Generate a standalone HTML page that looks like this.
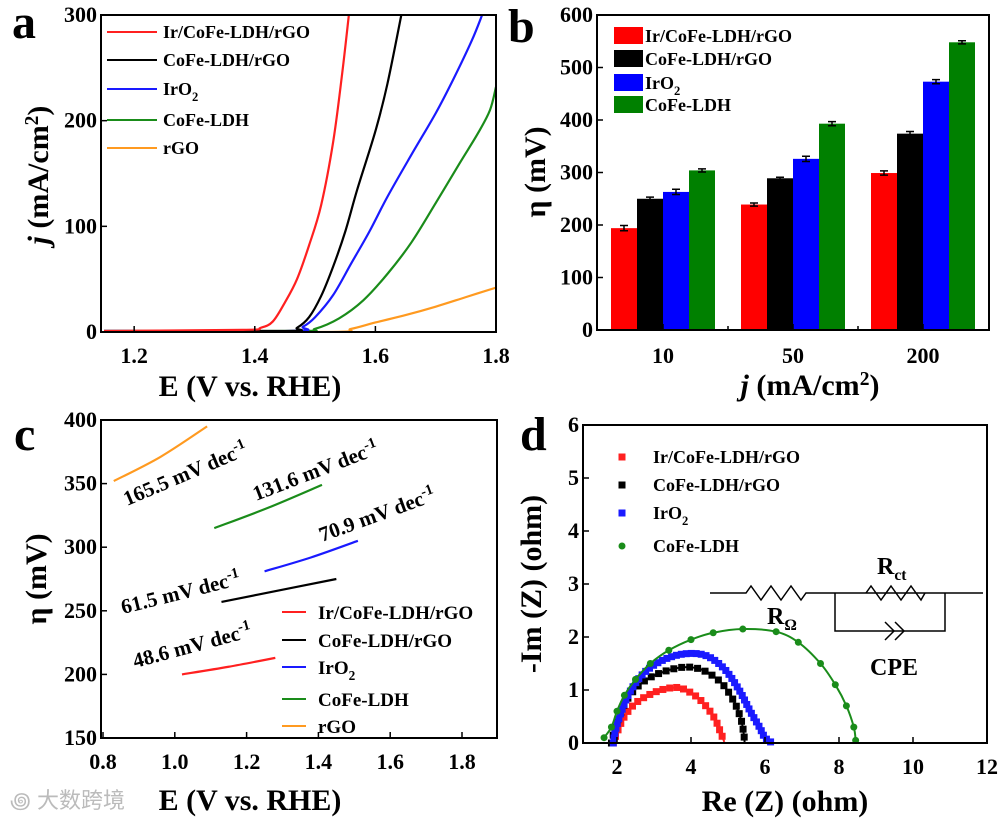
<!DOCTYPE html>
<html><head><meta charset="utf-8">
<style>
html,body{margin:0;padding:0;background:#fff;}
svg{display:block;font-family:"Liberation Serif","Noto Serif CJK SC",serif;font-weight:bold;}
</style></head>
<body>
<svg id="fig" width="1004" height="820" viewBox="0 0 1004 820" xmlns="http://www.w3.org/2000/svg">
<g id="pa"></g>
<g id="pb"></g>
<g id="pc"></g>
<g id="pd"></g>
<text x="10" y="808" font-size="22" fill="#bbb" font-weight="normal" font-family="Liberation Sans, Noto Sans CJK SC, sans-serif">꩜ 大数跨境</text>
</svg>
<script>
// ---------- Panel a data ----------
const aSeriesNames = ["Ir/CoFe-LDH/rGO","CoFe-LDH/rGO","IrO2","CoFe-LDH","rGO"];
const aColors = ["#ff2020","#000000","#1a1aff","#1a8c1a","#ff9a20"];
const aRed = [[1.15,1],[1.38,2],[1.41,4],[1.43,10],[1.45,28],[1.47,50],[1.49,82],[1.51,120],[1.53,180],[1.545,245],[1.556,300]];
const aBlack = [[1.15,1],[1.45,1],[1.47,4],[1.49,14],[1.51,34],[1.53,62],[1.55,95],[1.57,135],[1.60,190],[1.62,235],[1.643,300]];
const aBlue = [[1.15,1],[1.46,1],[1.48,5],[1.50,14],[1.53,35],[1.56,65],[1.59,95],[1.62,128],[1.66,168],[1.70,207],[1.73,240],[1.76,276],[1.777,300]];
const aGreen = [[1.15,1],[1.47,1],[1.50,3],[1.54,13],[1.58,30],[1.62,55],[1.66,85],[1.70,122],[1.74,160],[1.77,188],[1.79,210],[1.8,232]];
const aOrange = [[1.15,0],[1.52,0],[1.56,3],[1.60,9],[1.65,16],[1.70,24],[1.75,33],[1.8,42]];
const aXTicks = [1.2,1.4,1.6,1.8];
const aYTicks = [0,100,200,300];
// ---------- Panel b data ----------
const bCategories = ["10","50","200"];
const bSeriesNames = ["Ir/CoFe-LDH/rGO","CoFe-LDH/rGO","IrO2","CoFe-LDH"];
const bRed = [194,239,299];
const bBlack = [250,289,374];
const bBlue = [263,326,473];
const bGreen = [304,393,548];
const bErr = [[5,3,4],[3,2,4],[5,5,4],[3,4,3]];
const bYTicks = [0,100,200,300,400,500,600];
// ---------- Panel c data ----------
const cRed = [[1.02,200],[1.15,206],[1.28,213]];
const cBlack = [[1.13,257],[1.29,266],[1.45,275]];
const cBlue = [[1.25,281],[1.38,292],[1.51,305]];
const cGreen = [[1.11,315],[1.26,331],[1.41,349]];
const cOrange = [[0.83,352],[0.96,371],[1.09,395]];
const cSlopes = ["48.6","61.5","70.9","131.6","165.5"];
const cXTicks = [0.8,1.0,1.2,1.4,1.6,1.8];
const cYTicks = [150,200,250,300,350,400];
// ---------- Panel d data ----------
const dRed = [[1.9,0],[2.0,0.2],[2.2,0.5],[2.5,0.75],[2.9,0.92],[3.3,1.02],[3.7,1.04],[4.1,0.9],[4.4,0.7],[4.65,0.45],[4.8,0.2],[4.9,0.02]];
const dBlack = [[1.85,0],[2.0,0.4],[2.3,0.85],[2.7,1.15],[3.2,1.33],[3.8,1.43],[4.3,1.38],[4.8,1.15],[5.15,0.8],[5.35,0.45],[5.43,0.15],[5.45,0]];
const dBlue = [[1.9,0],[2.0,0.35],[2.3,0.9],[2.7,1.3],[3.2,1.55],[3.8,1.68],[4.4,1.65],[4.9,1.4],[5.3,1.0],[5.6,0.6],[5.85,0.3],[6.0,0.1],[6.2,0]];
const dGreen = [[1.65,0.1],[1.85,0.3],[2.0,0.6],[2.2,0.9],[2.5,1.2],[2.9,1.5],[3.4,1.75],[4.0,1.95],[4.6,2.08],[5.4,2.15],[6.3,2.1],[6.9,1.9],[7.5,1.5],[7.9,1.1],[8.2,0.7],[8.4,0.3],[8.45,0.05]];
const dXTicks = [2,4,6,8,10,12];
const dYTicks = [0,1,2,3,4,5,6];

const NS="http://www.w3.org/2000/svg";
const TICK=22, TITLE=30, LEG=18;
function el(parent,tag,attrs,text){const e=document.createElementNS(NS,tag);for(const k in attrs)e.setAttribute(k,attrs[k]);if(text!==undefined)e.textContent=text;parent.appendChild(e);return e;}
function lin(d0,d1,r0,r1){return v=>r0+(v-d0)*(r1-r0)/(d1-d0);}
function frame(g,x0,y0,x1,y1){const r=el(g,'rect',{x:x0,y:y0,width:x1-x0,height:y1-y0,fill:'none',stroke:'#000','stroke-width':2});}
function xticks(g,ticks,sx,y,minor,fmt){ticks.forEach(t=>{const X=sx(t);el(g,'line',{x1:X,x2:X,y1:y,y2:y-6,stroke:'#000','stroke-width':1.5});const tl=el(g,'text',{x:X,y:y+31,'text-anchor':'middle','font-size':TICK},fmt?fmt(t):t);});}
function yticks(g,ticks,sy,x,fmt){ticks.forEach(t=>{const Y=sy(t);el(g,'line',{x1:x,x2:x+6,y1:Y,y2:Y,stroke:'#000','stroke-width':1.5});const tl=el(g,'text',{x:x-4,y:Y+7,'text-anchor':'end','font-size':TICK},fmt?fmt(t):t);});}
function pathOf(pts,sx,sy){return pts.map((p,i)=>(i?'L':'M')+sx(p[0]).toFixed(1)+' '+sy(p[1]).toFixed(1)).join(' ');}
function smoothPath(pts,sx,sy){const P=pts.map(p=>[sx(p[0]),sy(p[1])]);let d='M'+P[0][0]+' '+P[0][1];for(let i=0;i<P.length-1;i++){const p0=P[i-1]||P[i],p1=P[i],p2=P[i+1],p3=P[i+2]||p2;d+=' C'+(p1[0]+(p2[0]-p0[0])/6)+' '+(p1[1]+(p2[1]-p0[1])/6)+' '+(p2[0]-(p3[0]-p1[0])/6)+' '+(p2[1]-(p3[1]-p1[1])/6)+' '+p2[0]+' '+p2[1];}return d;}
function label(g,x,y,txt,size,name,extra){const t=el(g,'text',Object.assign({x:x,y:y,'font-size':size},extra||{}),txt);return t;}
function setSub(t,main,sub,after){t.textContent=main;el(t,'tspan',{dy:6,'font-size':'0.7em'},sub);if(after){el(t,'tspan',{dy:-6},after);}}

// ===== Panel A =====
(function(){const g=document.getElementById('pa');const X0=101,X1=496,Y0=15,Y1=332;
const sx=lin(1.145,1.8,X0,X1),sy=lin(0,300,Y1,Y0);
const cp=el(g,'clipPath',{id:'ca'});el(cp,'rect',{x:X0,y:Y0,width:X1-X0,height:Y1-Y0});
const series=[aRed,aBlack,aBlue,aGreen,aOrange];
[4,3,2,1,0].forEach(i=>{const p=el(g,'path',{d:smoothPath(series[i],sx,sy),fill:'none',stroke:aColors[i],'stroke-width':2.2,'clip-path':'url(#ca)'});});
frame(g,X0,Y0,X1,Y1);
xticks(g,aXTicks,sx,Y1,false,t=>t.toFixed(1));yticks(g,aYTicks,sy,X0);
label(g,250,396,'E (V vs. RHE)',TITLE,'x-axis-title',{'text-anchor':'middle'});
const yt=label(g,0,0,'',TITLE,'y-axis-title',{transform:'translate(48,175) rotate(-90)','text-anchor':'middle'});
el(yt,'tspan',{'font-style':'italic'},'j');el(yt,'tspan',{},' (mA/cm');el(yt,'tspan',{dy:-10,'font-size':'0.65em'},'2');el(yt,'tspan',{dy:10},')');
label(g,12,38,'a',48,'panel-label');
const ly=[32,60,89,120,148];
aSeriesNames.forEach((n,i)=>{const lg=el(g,'g',{});
el(lg,'line',{x1:107,x2:157,y1:ly[i],y2:ly[i],stroke:aColors[i],'stroke-width':2});
const t=el(lg,'text',{x:163,y:ly[i]+6,'font-size':LEG});if(n==='IrO2')setSub(t,'IrO','2');else t.textContent=n;});
})();

// ===== Panel B =====
(function(){const g=document.getElementById('pb');const X0=597,X1=989,Y0=15,Y1=330;
const sy=lin(0,600,Y1,Y0);const cx=c=>663+c*130;const bw=26;
const cols=["#ff0000","#000000","#0000ff","#008000"];const vals=[bRed,bBlack,bBlue,bGreen];
vals.forEach((arr,s)=>arr.forEach((v,c)=>{const x=cx(c)-2*bw+s*bw;
const r=el(g,'rect',{x:x,y:sy(v),width:bw,height:Y1-sy(v),fill:cols[s]});
const e=bErr[s][c],m=x+bw/2;const eb=el(g,'path',{d:`M${m-4} ${sy(v+e)}H${m+4}M${m} ${sy(v+e)}V${sy(v-e)}M${m-4} ${sy(v-e)}H${m+4}`,stroke:'#000','stroke-width':1.5,fill:'none'});}));
frame(g,X0,Y0,X1,Y1);
yticks(g,bYTicks,sy,X0);
bCategories.forEach((c,i)=>{el(g,'line',{x1:cx(i),x2:cx(i),y1:Y1,y2:Y1-6,stroke:'#000','stroke-width':1.5});label(g,cx(i),Y1+33,c,TICK,'x-tick-label',{'text-anchor':'middle'});});
[728,858].forEach(x=>el(g,'line',{x1:x,x2:x,y1:Y1,y2:Y1-4,stroke:'#000','stroke-width':1.5}));
const xt=label(g,810,395,'',TITLE,'x-axis-title',{'text-anchor':'middle'});
el(xt,'tspan',{'font-style':'italic'},'j');el(xt,'tspan',{},' (mA/cm');el(xt,'tspan',{dy:-10,'font-size':'0.65em'},'2');el(xt,'tspan',{dy:10},')');
label(g,0,0,'η (mV)',TITLE,'y-axis-title',{transform:'translate(545,172) rotate(-90)','text-anchor':'middle'});
label(g,508,42,'b',48,'panel-label');
const ly=[35,58,82,104];
bSeriesNames.forEach((n,i)=>{const lg=el(g,'g',{});
el(lg,'rect',{x:614,y:ly[i]-8,width:29,height:17,fill:cols[i]});
const t=el(lg,'text',{x:645,y:ly[i]+7,'font-size':LEG});if(n==='IrO2')setSub(t,'IrO','2');else t.textContent=n;});
})();

// ===== Panel C =====
(function(){const g=document.getElementById('pc');const X0=101,X1=497,Y0=420,Y1=738;
const sx=lin(0.8,1.8,103,462),sy=lin(150,400,Y1,Y0);
const cols=["#ff2020","#000000","#1a1aff","#1a8c1a","#ff9a20"];const names=["Ir/CoFe-LDH/rGO"," CoFe-LDH/rGO","IrO2","CoFe-LDH","rGO"];
[cRed,cBlack,cBlue,cGreen,cOrange].forEach((s,i)=>{const p=el(g,'path',{d:smoothPath(s,sx,sy),fill:'none',stroke:cols[i],'stroke-width':2.2});});
frame(g,X0,Y0,X1,Y1);
xticks(g,cXTicks,sx,Y1,false,t=>t.toFixed(1));yticks(g,cYTicks,sy,X0);
label(g,250,810,'E (V vs. RHE)',TITLE,'x-axis-title',{'text-anchor':'middle'});
label(g,0,0,'η (mV)',TITLE,'y-axis-title',{transform:'translate(46,579) rotate(-90)','text-anchor':'middle'});
label(g,14,450,'c',48,'panel-label');
const ann=[[135,668,-15],[123,614,-14],[322,542,-20],[256,501,-21],[127,506,-23]];
ann.forEach((a,i)=>{const t=label(g,0,0,'',21,'slope-label',{transform:`translate(${a[0]},${a[1]}) rotate(${a[2]})`});t.textContent=cSlopes[i]+' mV dec';el(t,'tspan',{dy:-8,'font-size':'0.7em'},'-1');});
const ly=[612,640,667,699,726];
names.forEach((n,i)=>{const lg=el(g,'g',{});
el(lg,'line',{x1:282,x2:306,y1:ly[i],y2:ly[i],stroke:cols[i],'stroke-width':2});
const t=el(lg,'text',{x:318,y:ly[i]+7,'font-size':19,'xml:space':'preserve'});if(n==='IrO2')setSub(t,'IrO','2');else t.textContent=n;});
})();

// ===== Panel D =====
(function(){const g=document.getElementById('pd');const X0=583,X1=987,Y0=425,Y1=743;
const sx=lin(2,12,617,987),sy=lin(0,6,Y1,Y0);
const cols=["#ff2020","#000000","#1a1aff","#1a8c1a"];const names=["Ir/CoFe-LDH/rGO","CoFe-LDH/rGO","IrO2","CoFe-LDH"];
const spacing=[7,8,5,0];
[dRed,dBlack,dBlue,dGreen].forEach((s,i)=>{const sg=el(g,'g',{});
const p=el(sg,'path',{d:smoothPath(s,sx,sy),fill:'none',stroke:cols[i],'stroke-width':2});
if(i===3){s.forEach(q=>el(sg,'circle',{cx:sx(q[0]),cy:sy(q[1]),r:3.5,fill:cols[i]}));}
else{const L=p.getTotalLength();for(let l=0;l<=L;l+=spacing[i]){const pt=p.getPointAtLength(l);el(sg,'rect',{x:pt.x-3.5,y:pt.y-3.5,width:7,height:7,fill:cols[i]});}}
});
frame(g,X0,Y0,X1,Y1);
xticks(g,dXTicks,sx,Y1);yticks(g,dYTicks,sy,X0);
label(g,785,811,'Re (Z) (ohm)',TITLE,'x-axis-title',{'text-anchor':'middle'});
label(g,0,0,'-Im (Z) (ohm)',TITLE,'y-axis-title',{transform:'translate(541,584) rotate(-90)','text-anchor':'middle'});
label(g,520,450,'d',48,'panel-label');
const ly=[457,485,513,546];
names.forEach((n,i)=>{const lg=el(g,'g',{});
if(i===3)el(lg,'circle',{cx:622,cy:ly[i],r:3.5,fill:cols[i]});else el(lg,'rect',{x:618.5,y:ly[i]-3.5,width:7,height:7,fill:cols[i]});
const t=el(lg,'text',{x:653,y:ly[i]+6,'font-size':LEG});if(n==='IrO2')setSub(t,'IrO','2');else t.textContent=n;});
const c=el(g,'g',{fill:'none',stroke:'#000','stroke-width':1.5});
el(c,'path',{d:'M710 593H746l5 -7 10 14 10 -14 10 14 10 -14 10 14 5 -7H983'});
el(c,'path',{d:'M835 593V631H945V593'});
el(c,'path',{d:'M866 593l5 -7 10 14 10 -14 10 14 10 -14 10 14 4 -7'});
el(c,'path',{d:'M885 622l9 9 -9 9M895 622l9 9 -9 9'});
const r1=label(g,767,624,'R',24,'r-omega-label');el(r1,'tspan',{dy:6,'font-size':'0.65em'},'Ω');
const r2=label(g,877,574,'R',24,'r-ct-label');el(r2,'tspan',{dy:6,'font-size':'0.65em'},'ct');
label(g,870,675,'CPE',24,'cpe-label');
})();
</script>
</body></html>
